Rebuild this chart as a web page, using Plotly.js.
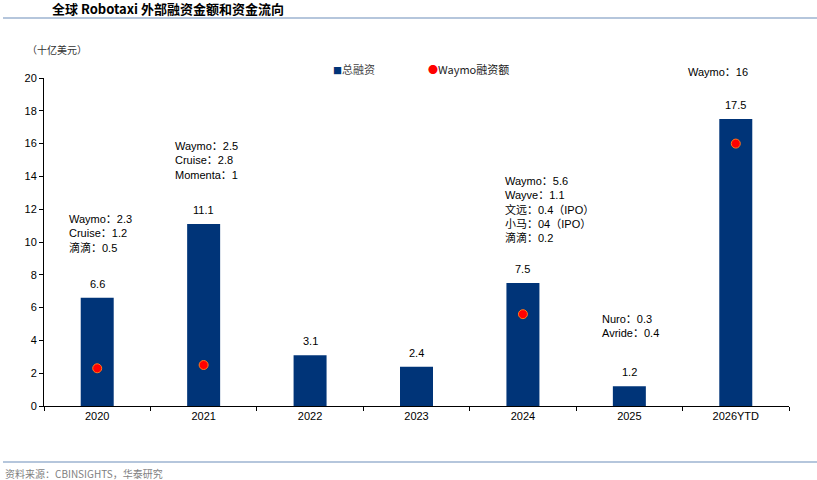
<!DOCTYPE html>
<html>
<head>
<meta charset="utf-8">
<script src="https://cdn.plot.ly/plotly-3.0.1.min.js"></script>
<style>
  html, body { margin: 0; padding: 0; background: #fff; }
  #chart { width: 817px; height: 480px; }
</style>
</head>
<body>
<div id="chart"></div>
<script>
// data
const years = ["2020", "2021", "2022", "2023", "2024", "2025", "2026YTD"];
const totalFunding = [6.6, 11.1, 3.1, 2.4, 7.5, 1.2, 17.5];
const waymoYears = ["2020", "2021", "2024", "2026YTD"];
const waymoFunding = [2.3, 2.5, 5.6, 16];

// notes above bars: which year, text lines
const noteYears = ["2020", "2021", "2024", "2025", "2026YTD"];
const noteLines = [
    ["Waymo：2.3", "Cruise：1.2", "滴滴：0.5"],
    ["Waymo：2.5", "Cruise：2.8", "Momenta：1"],
    ["Waymo：5.6", "Wayve：1.1", "文远：0.4（IPO）", "小马：04（IPO）", "滴滴：0.2"],
    ["Nuro：0.3", "Avride：0.4"],
    ["Waymo：16"]
];
const noteTop = [11.9, 16.35, 14.2, 5.8, 20];
const noteShift = [-30, -31, -20, -29, -18];

const FONT = "Liberation Sans, Arial, Noto Sans CJK SC, sans-serif";
const CJK = "Noto Sans CJK SC, Liberation Sans, sans-serif";
const BLUE = "#003478";
const RED = "#ff0000";

const traces = [
    {
        type: "bar",
        name: "总融资",
        x: years,
        y: totalFunding,
        width: 0.31,
        marker: { color: BLUE },
        hoverinfo: "none"
    },
    {
        type: "scatter",
        mode: "markers",
        name: "Waymo融资额",
        x: waymoYears,
        y: waymoFunding,
        marker: { color: RED, size: 9, line: { color: "#ff7a1a", width: 1 } },
        hoverinfo: "none"
    }
];

const annotations = [];
// value labels on bars (x given as category index)
years.forEach((yr, i) => {
    annotations.push({
        x: i, y: totalFunding[i], xref: "x", yref: "y",
        text: String(totalFunding[i]),
        showarrow: false, yanchor: "bottom", yshift: 6,
        font: { family: FONT, size: 11, color: "#000" }
    });
});
// company breakdown notes
noteYears.forEach((yr, i) => {
    const last = i === noteYears.length - 1;
    annotations.push({
        x: years.indexOf(yr), y: noteTop[i], xref: "x", yref: "y",
        text: noteLines[i].join("<br>"),
        showarrow: false,
        xanchor: last ? "center" : "left",
        // the 2026 note sits above the top of the axis
        yanchor: last ? "middle" : "top",
        yshift: last ? 6 : 0,
        align: "left",
        xshift: noteShift[i],
        font: { family: FONT, size: 11, color: "#000" }
    });
});

// plot area in pixels, helpers to place things by pixel
const L = 44, R = 28, T = 78, B = 74;
const pw = 817 - L - R, ph = 480 - T - B;
function px(x) { return (x - L) / pw; }
function py(y) { return (480 - B - y) / ph; }

// legend written as text, like the original
annotations.push({
    x: px(331), y: py(69), xref: "paper", yref: "paper",
    text: `<span style="color:${BLUE};font-size:9px">■</span><span style="color:#444">${traces[0].name}</span>`,
    showarrow: false, xanchor: "left", yanchor: "middle",
    font: { family: CJK, size: 11 }
});
annotations.push({
    x: px(426), y: py(69), xref: "paper", yref: "paper",
    text: `<span style="color:${RED};font-size:10px">●</span><span style="color:#222">${traces[1].name}</span>`,
    showarrow: false, xanchor: "left", yanchor: "middle",
    font: { family: CJK, size: 11 }
});
// unit label
annotations.push({
    x: px(25), y: py(49), xref: "paper", yref: "paper",
    text: "（十亿美元）", showarrow: false, xanchor: "left", yanchor: "middle",
    font: { family: CJK, size: 10, color: "#333" }
});
// source
annotations.push({
    x: px(3), y: py(473), xref: "paper", yref: "paper",
    text: "资料来源：CBINSIGHTS，华泰研究", showarrow: false, xanchor: "left", yanchor: "middle",
    font: { family: CJK, size: 10, color: "#7f7f7f" }
});

const layout = {
    width: 817,
    height: 480,
    margin: { l: L, r: R, t: T, b: B },
    paper_bgcolor: "#fff",
    plot_bgcolor: "#fff",
    font: { family: FONT, size: 11, color: "#000" },
    title: {
        text: "<b>全球 Robotaxi 外部融资金额和资金流向</b>",
        x: 52 / 817, xanchor: "left", xref: "container",
        y: 1 - 9 / 480, yanchor: "middle", yref: "container",
        font: { family: CJK, size: 13, color: "#000" }
    },
    showlegend: false,
    xaxis: {
        type: "category",
        range: [-0.5, 6.5],
        showgrid: false,
        showline: true, linecolor: "#000", linewidth: 1,
        ticks: "outside", ticklen: 4, tickcolor: "#000",
        tickson: "boundaries",
        tickangle: 0,
        tickfont: { family: FONT, size: 11, color: "#000" },
        fixedrange: true
    },
    yaxis: {
        range: [0, 20],
        dtick: 2,
        showgrid: false,
        zeroline: false,
        showline: true, linecolor: "#000", linewidth: 1,
        ticks: "outside", ticklen: 4, tickcolor: "#000",
        tickfont: { family: FONT, size: 11, color: "#000" },
        fixedrange: true
    },
    annotations: annotations,
    shapes: [
        { type: "line", xref: "paper", yref: "paper", x0: px(3), x1: px(817), y0: py(18), y1: py(18),
          line: { color: "#9db3d0", width: 1.5 } },
        { type: "line", xref: "paper", yref: "paper", x0: px(3), x1: px(817), y0: py(462), y1: py(462),
          line: { color: "#9db3d0", width: 1.5 } }
    ]
};

Plotly.newPlot("chart", traces, layout, { displayModeBar: false, staticPlot: true });
</script>
</body>
</html>
